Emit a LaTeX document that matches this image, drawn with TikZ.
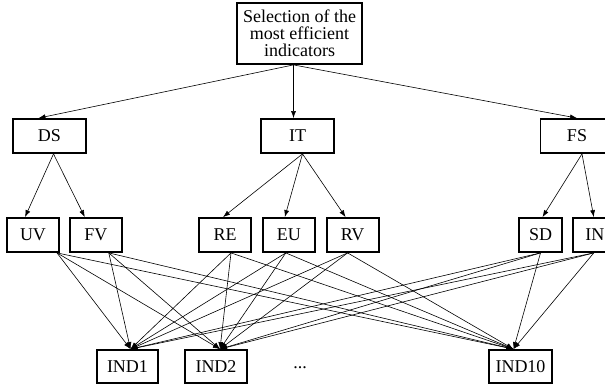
\documentclass[tikz,border=0pt]{standalone}
\usepackage{fontspec}
\setmainfont{Liberation Serif}
\usepackage{tikz}
\usetikzlibrary{arrows.meta,positioning}

\begin{document}
\begin{tikzpicture}[
    x=1pt, y=-1pt,
    every node/.style={font=\fontsize{18}{17}\selectfont, align=center},
    critbox/.style={rectangle, draw=black, line width=1.8pt, minimum height=34pt, inner sep=2pt},
    arr/.style={-{Latex[length=7pt,width=5pt]}, line width=0.6pt, draw=black}
]
\useasboundingbox (0,0) rectangle (605,388);
\clip (0,0) rectangle (605,388);

\node[critbox, minimum width=125pt, minimum height=61pt] (sel) at (299.5,33.5) {Selection of the\\most efficient\\indicators};

\node[critbox, minimum width=73pt] (ds) at (49.5,136) {DS};
\node[critbox, minimum width=73pt] (it) at (297.5,136) {IT};
\node[critbox, minimum width=73pt] (fs) at (577,136) {FS};

\node[critbox, minimum width=52pt] (uv) at (33,235) {UV};
\node[critbox, minimum width=52pt, right=9pt of uv] (fv) {FV};
\node[critbox, minimum width=52pt] (re) at (225,235) {RE};
\node[critbox, minimum width=52pt, right=10pt of re] (eu) {EU};
\node[critbox, minimum width=52pt, right=10pt of eu] (rv) {RV};
\node[critbox, minimum width=43pt] (sd) at (540.5,235) {SD};
\node[critbox, minimum width=44pt, right=9pt of sd] (in) {IN};

\node[critbox, minimum width=61pt, minimum height=33pt] (ind1) at (127.5,366.5) {IND1};
\node[critbox, minimum width=62pt, minimum height=33pt] (ind2) at (216,366.5) {IND2};
\node (dots) at (300,368) {...};
\node[critbox, minimum width=63pt, minimum height=33pt] (ind10) at (520.5,366.5) {IND10};

\draw[arr] ([xshift=-6pt]sel.south) -- ([xshift=-11pt]ds.north);
\draw[arr] ([xshift=-6pt]sel.south) -- ([xshift=-4pt]it.north);
\draw[arr] ([xshift=-6pt]sel.south) -- (fs.north);

\draw[arr] ([xshift=4pt]ds.south) -- ([xshift=-8pt]uv.north);
\draw[arr] ([xshift=4pt]ds.south) -- ([xshift=-11pt]fv.north);
\draw[arr] ([xshift=5pt]it.south) -- ([xshift=-2pt]re.north);
\draw[arr] ([xshift=5pt]it.south) -- ([xshift=-4pt]eu.north);
\draw[arr] ([xshift=5pt]it.south) -- ([xshift=-7pt]rv.north);
\draw[arr] ([xshift=5pt]fs.south) -- ([xshift=2pt]sd.north);
\draw[arr] ([xshift=5pt]fs.south) -- ([xshift=-1pt]in.north);

% every criterion feeds every indicator
\foreach \src/\soff in {uv/24,fv/13,re/6,eu/-3,rv/-5,sd/0,in/-1}
  \foreach \dst/\doff in {ind1/3,ind2/4,ind10/-7}
    \draw[arr] ([xshift=\soff pt]\src.south) -- ([xshift=\doff pt]\dst.north);

\end{tikzpicture}
\end{document}
